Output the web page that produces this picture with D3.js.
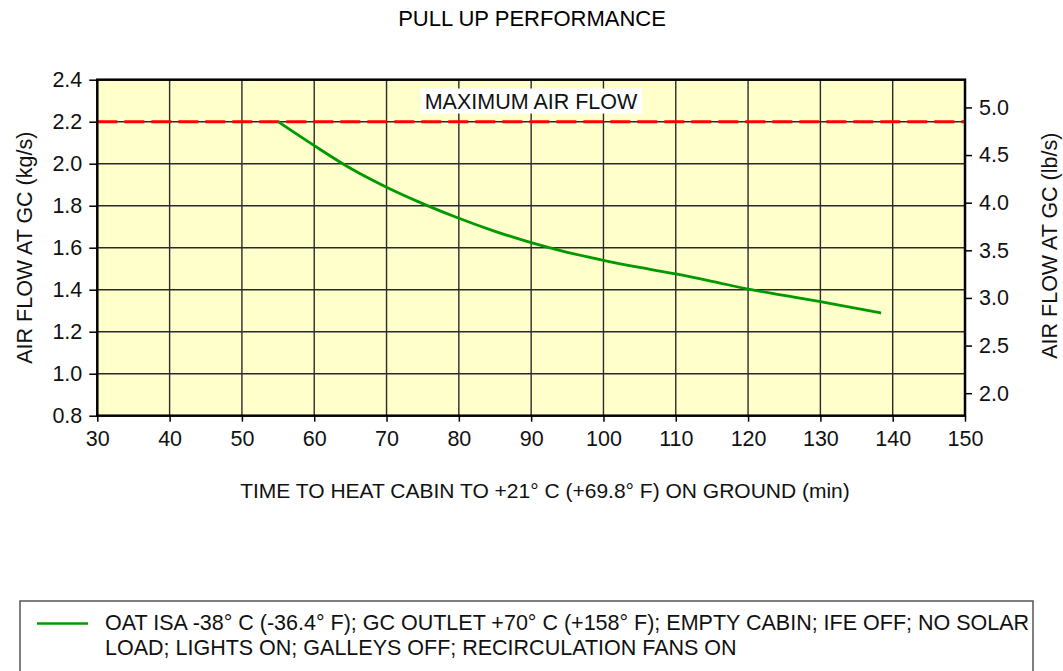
<!DOCTYPE html>
<html>
<head>
<meta charset="utf-8">
<script src="https://cdn.jsdelivr.net/npm/d3@7"></script>
<style>
  html, body { margin: 0; padding: 0; background: #fff; }
  svg { display: block; font-family: "Liberation Sans", Arial, sans-serif; }
</style>
</head>
<body>
<svg id="chart" width="1063" height="671"></svg>
<script>
// Heating time (min) vs. group-conditioner air flow (kg/s)
const timeMin = [55, 60, 65, 70, 75, 80, 85, 90, 95, 100, 105, 110, 115, 120, 125, 130, 135, 138.4];
const airFlowKg = [2.2, 2.086, 1.978, 1.888, 1.81, 1.74, 1.678, 1.624, 1.578, 1.54, 1.506, 1.475, 1.44, 1.403, 1.373, 1.343, 1.311, 1.289];
const maxAirFlow = 2.2;

const xTicks = [30, 40, 50, 60, 70, 80, 90, 100, 110, 120, 130, 140, 150];
const yTicks = [0.8, 1.0, 1.2, 1.4, 1.6, 1.8, 2.0, 2.2, 2.4];
const yTicksLb = [2.0, 2.5, 3.0, 3.5, 4.0, 4.5, 5.0];
const KG_TO_LB = 2.20462;

const titleText = "PULL UP PERFORMANCE";
const xTitle = "TIME TO HEAT CABIN TO +21\u00B0 C (+69.8\u00B0 F) ON GROUND (min)";
const yTitleLeft = "AIR FLOW AT GC (kg/s)";
const yTitleRight = "AIR FLOW AT GC (lb/s)";
const maxLabel = "MAXIMUM AIR FLOW";
const legendLines = [
  "OAT ISA -38\u00B0 C (-36.4\u00B0 F); GC OUTLET +70\u00B0 C (+158\u00B0 F); EMPTY CABIN; IFE OFF; NO SOLAR",
  "LOAD; LIGHTS ON; GALLEYS OFF; RECIRCULATION FANS ON"
];

const svg = d3.select("#chart");
const plot = { left: 97.3, right: 965, top: 79.7, bottom: 415.7 };

const x = d3.scaleLinear().domain([30, 150]).range([plot.left, plot.right]);
const y = d3.scaleLinear().domain([0.8, 2.4]).range([plot.bottom, plot.top]);
const yLb = d3.scaleLinear().domain([0.8 * KG_TO_LB, 2.4 * KG_TO_LB]).range([plot.bottom, plot.top]);

const fontSize = 21.5;
const green = "#009a00";

// title
svg.append("text")
  .attr("x", 532).attr("y", 26)
  .attr("text-anchor", "middle")
  .attr("font-size", 22).attr("fill", "#000")
  .text(titleText);

// plot background
svg.append("rect")
  .attr("x", plot.left).attr("y", plot.top)
  .attr("width", plot.right - plot.left).attr("height", plot.bottom - plot.top)
  .attr("fill", "#ffffcc");

// grid
const grid = svg.append("g").attr("stroke", "#2a2a2a").attr("stroke-width", 1.4);
grid.selectAll("line.v").data(xTicks.slice(1, -1)).join("line")
  .attr("x1", d => x(d)).attr("x2", d => x(d))
  .attr("y1", plot.top).attr("y2", plot.bottom);
grid.selectAll("line.h").data(yTicks.slice(1, -1)).join("line")
  .attr("x1", plot.left).attr("x2", plot.right)
  .attr("y1", d => y(d)).attr("y2", d => y(d));

// maximum air flow limit
svg.append("line")
  .attr("x1", plot.left).attr("x2", plot.right)
  .attr("y1", y(maxAirFlow)).attr("y2", y(maxAirFlow))
  .attr("stroke", "#ff0000").attr("stroke-width", 3)
  .attr("stroke-dasharray", "20,7");

// label box for the limit line
const lbl = svg.append("g");
const lblText = lbl.append("text")
  .attr("x", 531).attr("y", 108.5)
  .attr("text-anchor", "middle")
  .attr("font-size", fontSize).attr("fill", "#111")
  .text(maxLabel);
const bb = lblText.node().getBBox();
lbl.insert("rect", "text")
  .attr("x", bb.x - 4).attr("y", 88.5)
  .attr("width", bb.width + 8).attr("height", 25)
  .attr("fill", "#fff");

// performance curve
const line = d3.line().x((d, i) => x(timeMin[i])).y(d => y(d)).curve(d3.curveMonotoneX);
svg.append("path")
  .datum(airFlowKg)
  .attr("d", line)
  .attr("fill", "none")
  .attr("stroke", green)
  .attr("stroke-width", 2.8);

// plot frame
svg.append("rect")
  .attr("x", plot.left).attr("y", plot.top)
  .attr("width", plot.right - plot.left).attr("height", plot.bottom - plot.top)
  .attr("fill", "none").attr("stroke", "#000").attr("stroke-width", 2.5);

// axes
const xAxis = svg.append("g")
  .attr("transform", `translate(0,${plot.bottom})`)
  .call(d3.axisBottom(x).tickValues(xTicks).tickSize(6).tickPadding(9).tickFormat(d3.format("d")));
const yAxis = svg.append("g")
  .attr("transform", `translate(${plot.left},0)`)
  .call(d3.axisLeft(y).tickValues(yTicks).tickSize(8).tickPadding(7).tickFormat(d3.format(".1f")));
const yAxisR = svg.append("g")
  .attr("transform", `translate(${plot.right},0)`)
  .call(d3.axisRight(yLb).tickValues(yTicksLb).tickSize(7).tickPadding(7).tickFormat(d3.format(".1f")));

[xAxis, yAxis, yAxisR].forEach(g => {
  g.select(".domain").remove();
  g.selectAll(".tick line").attr("stroke", "#000").attr("stroke-width", 1.5);
  g.selectAll(".tick text")
    .attr("font-family", "Liberation Sans, Arial, sans-serif")
    .attr("font-size", fontSize).attr("fill", "#111");
});

// axis titles
svg.append("text")
  .attr("x", 545).attr("y", 498)
  .attr("text-anchor", "middle")
  .attr("font-size", 21).attr("fill", "#111")
  .text(xTitle);
svg.append("text")
  .attr("transform", `translate(32,${(plot.top + plot.bottom) / 2}) rotate(-90)`)
  .attr("text-anchor", "middle")
  .attr("font-size", fontSize).attr("fill", "#111")
  .text(yTitleLeft);
svg.append("text")
  .attr("transform", `translate(1057,${(plot.top + plot.bottom) / 2 - 2}) rotate(-90)`)
  .attr("text-anchor", "middle")
  .attr("font-size", fontSize).attr("fill", "#111")
  .text(yTitleRight);

// legend
const legend = svg.append("g");
legend.append("rect")
  .attr("x", 20).attr("y", 601)
  .attr("width", 1013).attr("height", 100)
  .attr("fill", "#fff").attr("stroke", "#555").attr("stroke-width", 1.5);
legend.append("line")
  .attr("x1", 37).attr("x2", 88).attr("y1", 623.5).attr("y2", 623.5)
  .attr("stroke", green).attr("stroke-width", 2.5);
legend.selectAll("text.leg").data(legendLines).join("text")
  .attr("x", 105).attr("y", (d, i) => 630 + i * 25)
  .attr("font-size", fontSize).attr("fill", "#111")
  .text(d => d);
</script>
</body>
</html>
